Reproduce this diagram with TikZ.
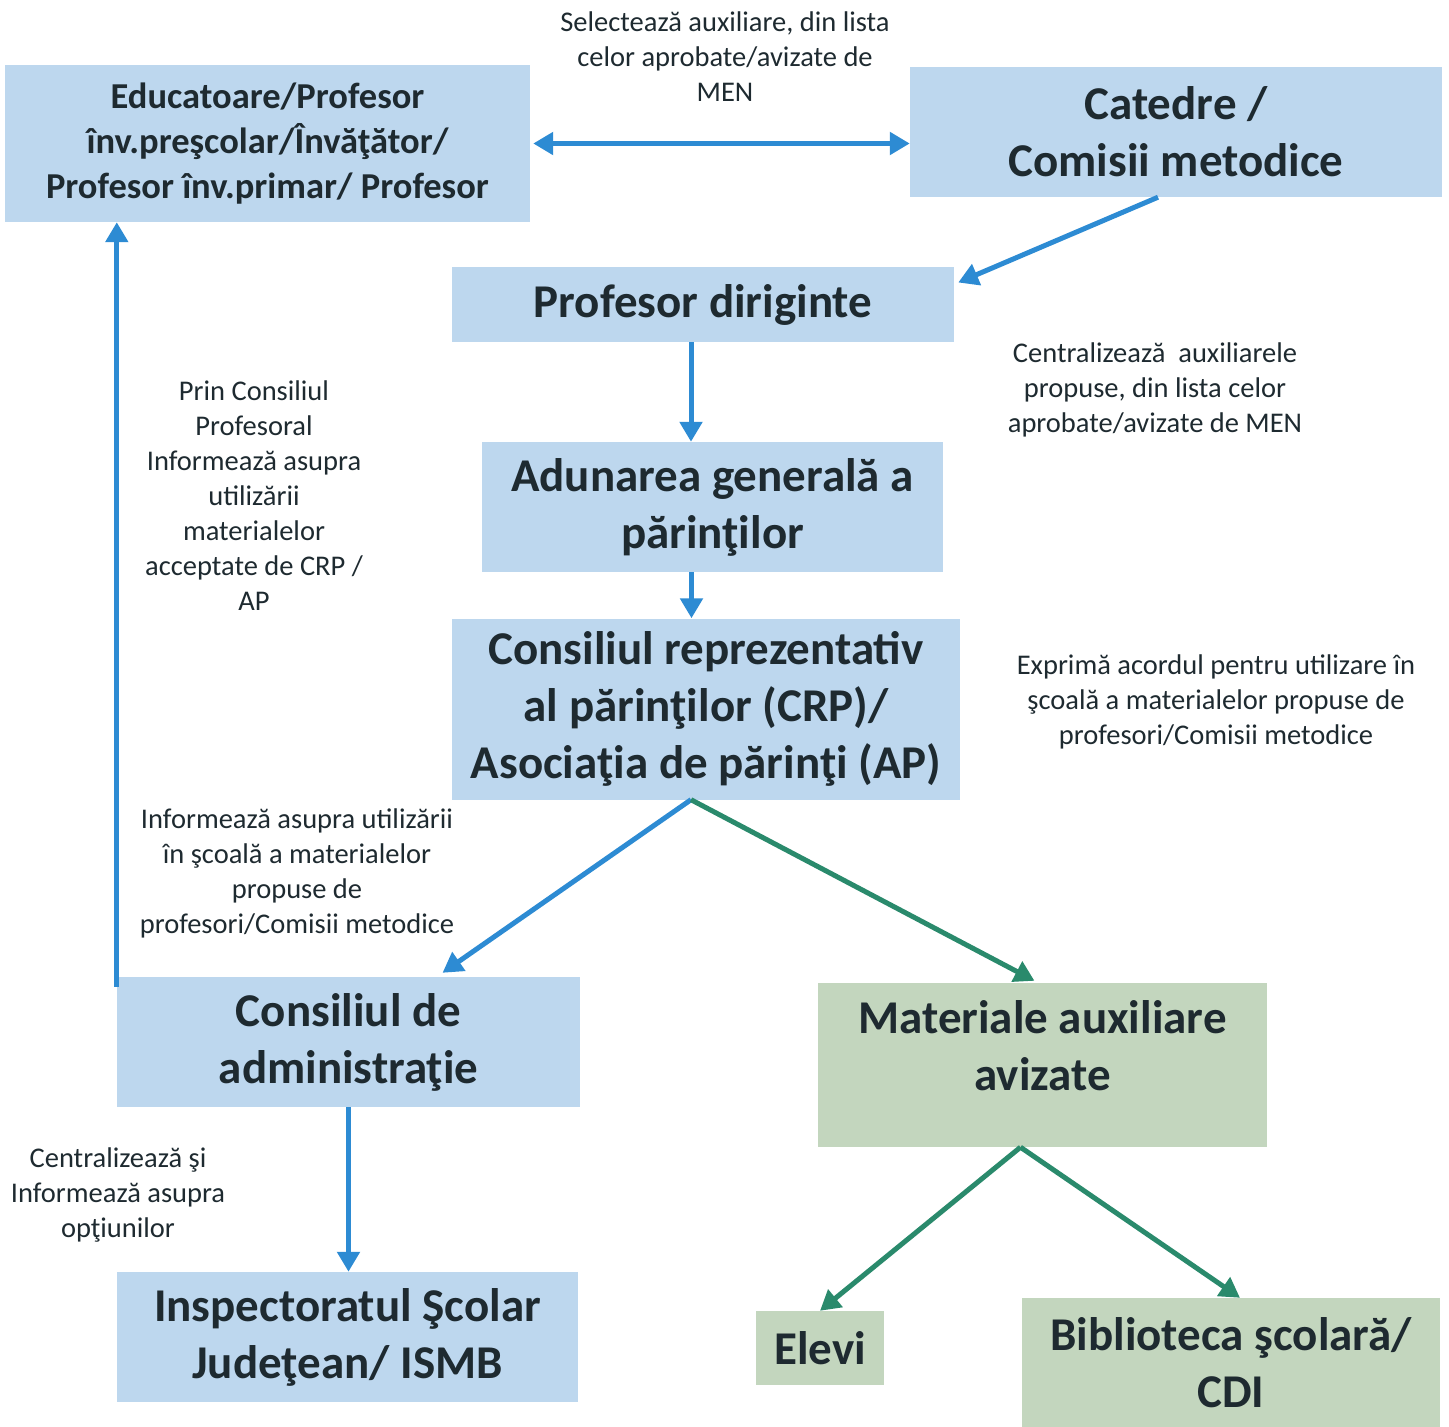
\documentclass[tikz,border=0pt]{standalone}
\usepackage{fontspec}
\setmainfont{Carlito}
\usetikzlibrary{arrows.meta}
\usetikzlibrary{positioning}
\definecolor{boxblue}{HTML}{BDD7EE}
\definecolor{boxgreen}{HTML}{C3D6BE}
\definecolor{lineblue}{HTML}{2D8BD3}
\definecolor{linegreen}{HTML}{2A8A6C}
\definecolor{inkdark}{HTML}{1E2A30}

\begin{document}
\begin{tikzpicture}[x=1pt, y=-1pt,
    bluebox/.style={fill=boxblue, inner sep=0pt, align=center, text=inkdark,
        font=\bfseries\fontsize{47}{57}\selectfont},
    greenbox/.style={bluebox, fill=boxgreen},
    note/.style={align=center, text=inkdark, font=\fontsize{28.5}{35}\selectfont},
    bluearrow/.style={-{Triangle[length=20pt,width=22pt]}, line width=5pt, lineblue},
    greenarrow/.style={bluearrow, linegreen}]
  \useasboundingbox (0,0) rectangle (1449,1427);
  % boxes
  \node[bluebox, minimum width=525, minimum height=157,
        font=\bfseries\fontsize{36.5}{45}\selectfont] (Educ) at (267.5,143.5)
        {Educatoare/Profesor\\ înv.preşcolar/Învăţător/\\ Profesor înv.primar/ Profesor};
  \node[bluebox, minimum width=532, minimum height=130] (Catedre) at (1176,132)
        {Catedre /\\ Comisii metodice};
  \node[bluebox, minimum width=502, minimum height=75] (Dirig) at (703,304.5) {Profesor diriginte};
  \node[bluebox, minimum width=461, minimum height=130] (Adunare) at (712.5,507)
        {Adunarea generală a\\ părinţilor};
  \node[bluebox, minimum width=508, minimum height=181] (CRP) at (706,709)
        {Consiliul reprezentativ\\ al părinţilor (CRP)/\\ Asociaţia de părinţi (AP)};
  \node[bluebox, minimum width=463, minimum height=130] (CA) at (348.5,1042)
        {Consiliul de\\ administraţie};
  \node[bluebox, minimum width=461, minimum height=130] (ISJ) at (347.5,1337)
        {Inspectoratul Şcolar\\ Judeţean/ ISMB};
  \node[greenbox, minimum width=449, minimum height=164, text depth=40pt] (Mat) at (1042.5,1065)
        {Materiale auxiliare\\ avizate};
  \node[greenbox, minimum width=128, minimum height=74] (Elevi) at (820,1348) {Elevi};
  \node[greenbox, minimum width=418, minimum height=129] (Biblio) at (1231,1362.5)
        {Biblioteca şcolară/\\ CDI};
  % notes
  \node[note] (nSelect) at (725,57) {Selectează auxiliare, din lista\\ celor aprobate/avizate de\\ MEN};
  \node[note] (nCentral) at (1155,390) {Centralizează~ auxiliarele\\ propuse, din lista celor\\ aprobate/avizate de MEN};
  \node[note] (nPrin) at (254,496) {Prin Consiliul\\ Profesoral\\ Informează asupra\\ utilizării\\ materialelor\\ acceptate de CRP /\\ AP};
  \node[note] (nExprima) at (1216,702) {Exprimă acordul pentru utilizare în\\ şcoală a materialelor propuse de\\ profesori/Comisii metodice};
  \node[note] (nInform) at (297,873) {Informează asupra utilizării\\ în şcoală a materialelor\\ propuse de\\ profesori/Comisii metodice};
  \node[note] (nOptiuni) at (118,1195) {Centralizează şi\\ Informează asupra\\ opţiunilor};
  % arrows
  \draw[bluearrow, {Triangle[length=20pt,width=22pt]}-{Triangle[length=20pt,width=22pt]}]
        ([xshift=3pt]Educ.east) -- (Educ.east -| Catedre.west);
  \draw[bluearrow] ([xshift=-18pt]Catedre.south) -- ([xshift=4pt,yshift=22pt]Dirig.east);
  \draw[bluearrow] ([xshift=-12pt]Dirig.south) -- ([xshift=-12pt]Dirig.south |- Adunare.north);
  \draw[bluearrow] ([xshift=-21pt]Adunare.south) -- ([xshift=-21pt]Adunare.south |- CRP.north);
  \draw[bluearrow] ([xshift=-15pt]CRP.south) -- ([xshift=94pt,yshift=4pt]CA.north);
  \draw[greenarrow] ([xshift=-15pt]CRP.south) -- ([xshift=-8pt,yshift=2pt]Mat.north);
  \draw[bluearrow] ([yshift=-10pt]CA.north west) -- (CA.north west |- Educ.south);
  \draw[bluearrow] (CA.south) -- (CA.south |- ISJ.north);
  \draw[greenarrow] ([xshift=-22pt]Mat.south) -- (Elevi.north);
  \draw[greenarrow] ([xshift=-22pt]Mat.south) -- ([xshift=9pt]Biblio.north);
\end{tikzpicture}
\end{document}
